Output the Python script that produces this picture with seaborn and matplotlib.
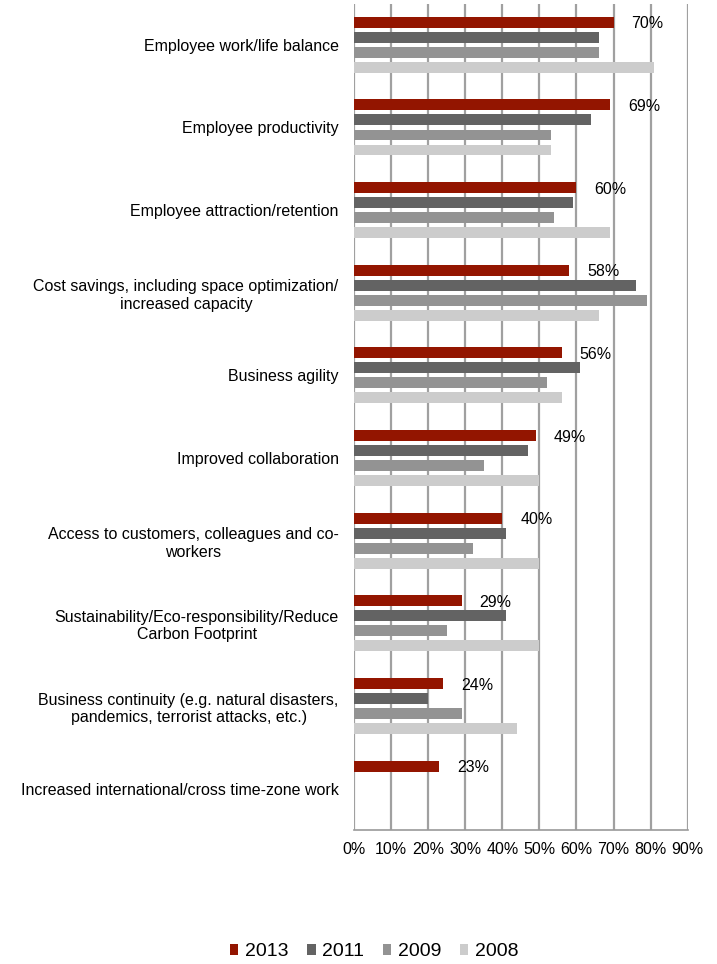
import numpy as np
import pandas as pd
import matplotlib
matplotlib.use("Agg")
import matplotlib.pyplot as plt
import seaborn as sns

categories = [
    "Employee work/life balance",
    "Employee productivity",
    "Employee attraction/retention",
    "Cost savings, including space optimization/\nincreased capacity",
    "Business agility",
    "Improved collaboration",
    "Access to customers, colleagues and co-\nworkers",
    "Sustainability/Eco-responsibility/Reduce\nCarbon Footprint",
    "Business continuity (e.g. natural disasters,\npandemics, terrorist attacks, etc.)",
    "Increased international/cross time-zone work",
]
years = ["2013", "2011", "2009", "2008"]
v2013 = [70, 69, 60, 58, 56, 49, 40, 29, 24, 23]
v2011 = [66, 64, 59, 76, 61, 47, 41, 41, 20, np.nan]
v2009 = [66, 53, 54, 79, 52, 35, 32, 25, 29, np.nan]
v2008 = [81, 53, 69, 66, 56, 50, 50, 50, 44, np.nan]
colors = ["#931500", "#636363", "#939393", "#CCCCCC"]
xticks = [0, 10, 20, 30, 40, 50, 60, 70, 80, 90]

rows = []
for yr, vals in zip(years, [v2013, v2011, v2009, v2008]):
    for c, v in zip(categories, vals):
        rows.append({"category": c, "year": yr, "value": v})
df = pd.DataFrame(rows)

sns.set_style("white")
plt.rcParams["font.family"] = ["Liberation Sans", "DejaVu Sans"]
plt.rcParams["text.color"] = "black"
plt.rcParams["xtick.labelcolor"] = "black"
plt.rcParams["ytick.labelcolor"] = "black"

fig = plt.figure(figsize=(7.17, 9.64), dpi=100)
ax = fig.add_axes([354 / 717, 1 - 830 / 964, (687.7 - 354) / 717, (830 - 3.5) / 964])

sns.barplot(data=df, y="category", x="value", hue="year", order=categories,
            hue_order=years, palette=dict(zip(years, colors)), orient="h",
            width=0.726, gap=0.27, saturation=1, ax=ax, legend=True, errorbar=None,
            linewidth=0)

ax.set_xlim(0, 90)
ax.set_ylim(9.5, -0.5)
ax.set_xticks(xticks)
ax.set_xticklabels([f"{t}%" for t in xticks], fontsize=11.5)
ax.set_xlabel("")
ax.set_ylabel("")
ax.tick_params(axis="y", length=0, labelsize=11.5, pad=11)
for lab in ax.get_yticklabels():
    lab.set_multialignment("center")
    lab.set_color("black")
ax.tick_params(axis="x", length=5, width=1, color="#999999", pad=4, labelcolor="black")

ax.set_axisbelow(True)
ax.xaxis.grid(True, color="#A0A0A0", linewidth=1.6)
for s in ["top", "right", "left"]:
    ax.spines[s].set_visible(False)
ax.spines["bottom"].set_color("#999999")
ax.spines["bottom"].set_linewidth(1.2)

texts = ax.bar_label(ax.containers[0], fmt="%g%%", padding=13, fontsize=11.5, color="black")
for t in texts:
    t.set_va("center_baseline")

handles, labels = ax.get_legend_handles_labels()
ax.get_legend().remove()
fig.legend(handles, labels, loc="center", bbox_to_anchor=(0.522, 0.0125), ncol=4,
           frameon=False, fontsize=14, handlelength=0.43, handleheight=0.43,
           handletextpad=0.35, columnspacing=0.95)

fig.savefig("out.png", dpi=100)
